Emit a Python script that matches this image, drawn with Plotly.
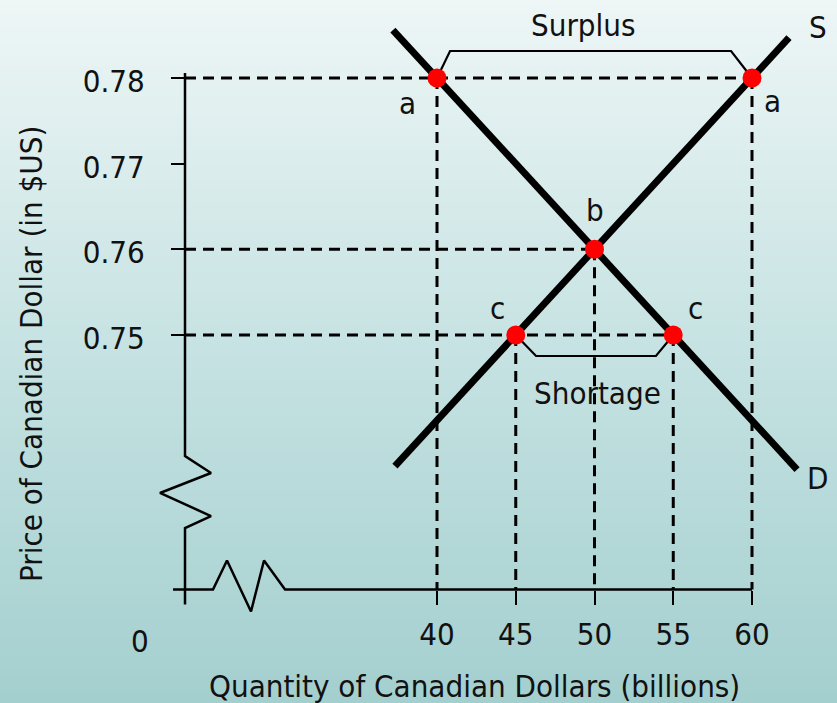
import numpy as np
import plotly.graph_objects as go

# ---- data ----
supply_q = [37.33, 62.35]
supply_p = [0.7347, 0.7847]
demand_q = [37.2, 62.86]
demand_p = [0.7856, 0.7343]

point_q = [40, 60, 50, 45, 55]
point_p = [0.78, 0.78, 0.76, 0.75, 0.75]
point_lbl = ["a", "a", "b", "c", "c"]

x_ticks = [40, 45, 50, 55, 60]
x_ticktext = ["40", "45", "50", "55", "60"]
y_ticks = [0.75, 0.76, 0.77, 0.78]
y_ticktext = ["0.75", "0.76", "0.77", "0.78"]

# axis origin (broken axes)
Q0 = 24.0
P0 = 0.7203

# view range
XR = [12.254, 65.397]
YR = [0.707045, 0.789105]

FONT = "DejaVu Sans Condensed, DejaVu Sans, sans-serif"
TXT = "#111111"
FS = 31

fig = go.Figure()

# background gradient
ny = 300
yedges = np.linspace(YR[0], YR[1], ny + 1)
zc = ((yedges[:-1] + yedges[1:]) / 2).reshape(-1, 1)
fig.add_trace(go.Heatmap(
    x=XR, y=yedges, z=zc, showscale=False, hoverinfo="skip",
    colorscale=[[0, "#A4CFCF"], [0.5, "#C6E2E2"], [1, "#EEF6F6"]],
    zmin=YR[0], zmax=YR[1]))

# dashed guide lines
dash = "11px,7px"
for q, p in [(60, 0.78), (50, 0.76), (55, 0.75)]:
    fig.add_trace(go.Scatter(x=[Q0, q], y=[p, p], mode="lines",
                             line=dict(color="black", width=3, dash=dash), hoverinfo="skip"))
for q, p in zip(point_q, point_p):
    fig.add_trace(go.Scatter(x=[q, q], y=[p, P0], mode="lines",
                             line=dict(color="black", width=3, dash=dash), hoverinfo="skip"))

# axes with break marks
dq = 0.0635   # one pixel in Q
dp = 0.0001167  # one pixel in P
vx = [Q0, Q0, Q0 + 26 * dq, Q0 - 25 * dq, Q0 + 26 * dq, Q0, Q0]
vy = [0.78058, 0.73588, 0.73389, 0.73156, 0.72887, 0.72747, P0 - 15 * dp]
fig.add_trace(go.Scatter(x=vx, y=vy, mode="lines", line=dict(color="black", width=2.5),
                         hoverinfo="skip"))
hx = [Q0 - 12 * dq, Q0 + 28 * dq, Q0 + 42 * dq, Q0 + 66 * dq, Q0 + 79 * dq, Q0 + 100 * dq, 60]
hy = [P0, P0, P0 + 29 * dp, P0 - 22 * dp, P0 + 29 * dp, P0, P0]
fig.add_trace(go.Scatter(x=hx, y=hy, mode="lines", line=dict(color="black", width=2.5),
                         hoverinfo="skip"))

# surplus / shortage brackets
fig.add_trace(go.Scatter(x=[40, 40.83, 58.67, 60], y=[0.78, 0.78315, 0.78315, 0.78],
                         mode="lines", line=dict(color="black", width=2.2), hoverinfo="skip"))
fig.add_trace(go.Scatter(x=[45, 46.29, 53.9, 55], y=[0.75, 0.74755, 0.74755, 0.75],
                         mode="lines", line=dict(color="black", width=2.2), hoverinfo="skip"))

# supply & demand
fig.add_trace(go.Scatter(x=supply_q, y=supply_p, mode="lines",
                         line=dict(color="black", width=7), hoverinfo="skip"))
fig.add_trace(go.Scatter(x=demand_q, y=demand_p, mode="lines",
                         line=dict(color="black", width=7), hoverinfo="skip"))

# points
fig.add_trace(go.Scatter(x=point_q, y=point_p, mode="markers",
                         marker=dict(color="#FF0000", size=19, line=dict(width=0)),
                         hoverinfo="skip"))

# labels
ann = [
    ("a", 38.10, 0.77708), ("a", 61.33, 0.77732), ("b", 50.0, 0.7646),
    ("c", 43.81, 0.75315), ("c", 56.44, 0.75315),
    ("S", 64.19, 0.78595), ("D", 64.19, 0.73331),
    ("Surplus", 49.27, 0.78619), ("Shortage", 50.16, 0.74323),
    ("0", 21.14, 0.71424),
]
for t, x, y in ann:
    fig.add_annotation(x=x, y=y, xref="x", yref="y", text=t, showarrow=False,
                       font=dict(family=FONT, size=FS, color=TXT),
                       xanchor="center", yanchor="middle")

fig.add_annotation(x=475 / 837, y=1 - 686 / 703, xref="paper", yref="paper",
                   text="Quantity of Canadian Dollars (billions)", showarrow=False,
                   font=dict(family=FONT, size=FS, color=TXT), xanchor="center", yanchor="middle")
fig.add_annotation(x=31 / 837, y=1 - 354 / 703, xref="paper", yref="paper",
                   text="Price of Canadian Dollar (in $US)", showarrow=False, textangle=-90,
                   font=dict(family=FONT, size=FS, color=TXT), xanchor="center", yanchor="middle")

fig.update_layout(
    width=837, height=703, margin=dict(l=0, r=0, t=0, b=0),
    paper_bgcolor="#C6E2E2", plot_bgcolor="#C6E2E2", showlegend=False,
    font=dict(family=FONT, size=FS, color=TXT),
    xaxis=dict(range=XR, anchor="free", position=113 / 703, showgrid=False, zeroline=False,
               showline=False, tickvals=x_ticks, ticktext=x_ticktext, ticks="outside",
               ticklen=14, tickwidth=2, tickcolor="black", ticklabelstandoff=3,
               tickfont=dict(family=FONT, size=FS, color=TXT)),
    yaxis=dict(range=YR, anchor="free", position=185 / 837, showgrid=False, zeroline=False,
               showline=False, tickvals=y_ticks, ticktext=y_ticktext, ticks="outside",
               ticklen=14, tickwidth=2, tickcolor="black", ticklabelstandoff=20,
               ticklabelshift=3,
               tickfont=dict(family=FONT, size=FS, color=TXT)),
)

fig.write_html("out.html", config={"displayModeBar": False},
               post_script="document.body.style.margin='0';document.body.style.overflow='hidden';")
